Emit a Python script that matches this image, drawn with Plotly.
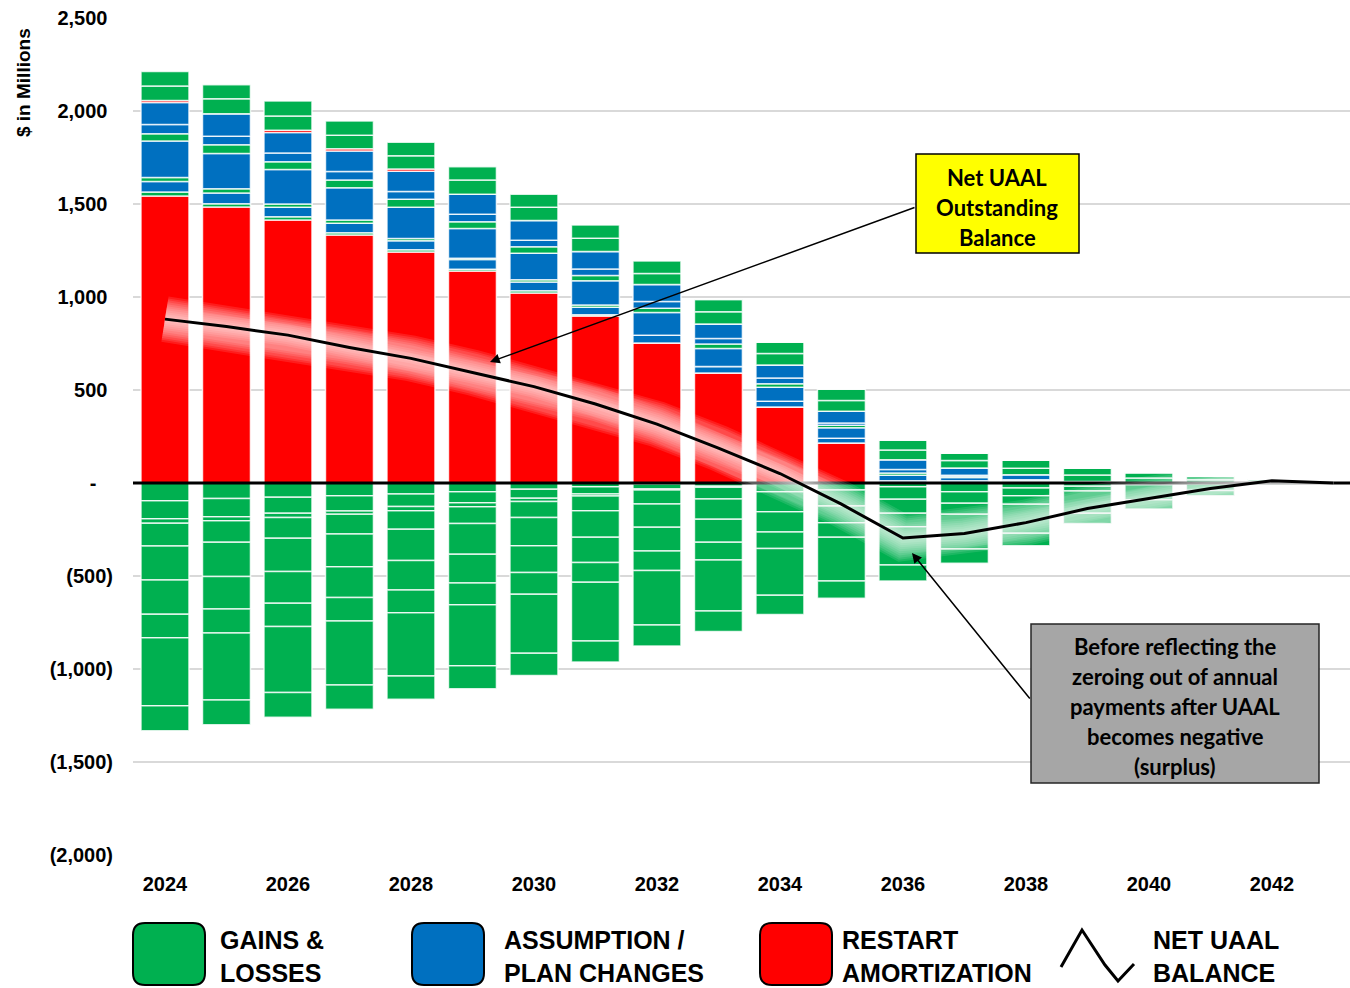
import plotly.graph_objects as go

# ---------------------------------------------------------------- data ($M)
YEARS = list(range(2024, 2044))

# positive amortization bases, listed bottom -> top of the stack
RESTART_AMORT = [1543, 1484, 1414, 1333, 1242, 1140, 1022, 898, 753, 591, 409, 215, 0, 0, 0, 0, 0, 0, 0, 0]
GAIN_A = [22, 17, 17, 12, 12, 9, 12, 6, 0, 0, 0, 0, 0, 0, 0, 0, 0, 0, 0, 0]
ASSUMP_A = [56, 58, 52, 52, 48, 53, 47, 41, 42, 36, 31, 25, 12, 12, 5, 0, 0, 0, 0, 0]
GAIN_B = [22, 23, 17, 17, 12, 6, 12, 12, 0, 0, 0, 0, 0, 0, 0, 0, 0, 0, 0, 0]
ASSUMP_B = [196, 190, 186, 174, 169, 160, 142, 130, 121, 96, 75, 57, 30, 17, 5, 0, 0, 0, 0, 0]
GAIN_C = [39, 46, 41, 41, 42, 36, 35, 29, 24, 24, 19, 13, 12, 6, 3, 0, 0, 0, 0, 0]
ASSUMP_C = [50, 46, 47, 46, 42, 41, 35, 35, 36, 30, 31, 13, 18, 6, 4, 0, 0, 0, 0, 0]
ASSUMP_D = [118, 121, 111, 110, 109, 107, 106, 94, 91, 78, 69, 63, 53, 40, 28, 8, 0, 0, 0, 0]
RESTART_B = [11, 0, 12, 12, 12, 0, 0, 0, 0, 0, 0, 0, 0, 0, 0, 0, 0, 0, 0, 0]
GAIN_D = [78, 81, 76, 73, 72, 77, 71, 71, 60, 66, 62, 57, 53, 40, 34, 35, 27, 18, 10, 0]
GAIN_E = [78, 75, 81, 76, 72, 71, 71, 71, 66, 66, 62, 63, 53, 40, 45, 38, 30, 20, 12, 0]

# negative gain/loss bases, listed from zero downward
LOSS_1 = [-95, -84, -77, -68, -59, -47, -34, -20, -5, 0, 0, 0, 0, 0, 0, 0, 0, 0, 0, 0]
LOSS_2 = [-97, -97, -86, -82, -68, -59, -48, -39, -27, -17, 0, 0, 0, 0, 0, 0, 0, 0, 0, 0]
LOSS_3 = [-25, -22, -23, -18, -22, -22, -18, -11, -6, -6, 0, 0, 0, 0, 0, 0, 0, 0, 0, 0]
LOSS_4 = [-122, -116, -111, -106, -100, -90, -86, -79, -75, -63, -47, -38, -20, 0, 0, 0, 0, 0, 0, 0]
LOSS_5 = [-183, -184, -179, -176, -168, -165, -152, -143, -125, -109, -108, -86, -68, -47, -27, 0, 0, 0, 0, 0]
LOSS_6 = [-183, -174, -170, -165, -158, -154, -143, -136, -127, -124, -108, -90, -75, -62, -42, -18, 0, 0, 0, 0]
LOSS_7 = [-127, -129, -125, -127, -122, -117, -117, -106, -106, -95, -89, -78, -72, -59, -45, -25, -10, -5, 0, 0]
LOSS_8 = [-366, -360, -355, -344, -340, -328, -317, -315, -292, -274, -251, -235, -206, -187, -156, -120, -80, -35, -5, 0]
LOSS_9 = [-134, -134, -133, -131, -125, -124, -120, -113, -113, -111, -104, -93, -86, -77, -67, -55, -50, -28, -5, 0]

Y_TICKS = [-2000, -1500, -1000, -500, 0, 500, 1000, 1500, 2000, 2500]
Y_TICK_TEXT = ["(2,000)", "(1,500)", "(1,000)", "(500)", "-\u00a0\u00a0\u00a0",
               "500\u00a0", "1,000\u00a0", "1,500\u00a0", "2,000\u00a0", "2,500\u00a0"]
X_TICKS = list(range(2024, 2043, 2))

# ---------------------------------------------------------------- styles
GREEN = "#00B050"
BLUE = "#0070C0"
RED = "#FF0000"
NARROW = "Liberation Sans Narrow, Arial Narrow, Liberation Sans, Arial, sans-serif"
BOXFONT = "Lato, Open Sans, sans-serif"

W, H = 1350, 988
ML, MR, MT, MB = 133, 0, 18, 133
X_LO, X_HI = 2023.48, 2043.27


def fx(p):
    """page x pixel -> paper fraction"""
    return (p - ML) / (W - ML - MR)


def fy(p):
    """page y pixel -> paper fraction"""
    return (H - MB - p) / (H - MT - MB)


fig = go.Figure()

positive = [
    (RESTART_AMORT, RED), (GAIN_A, GREEN), (ASSUMP_A, BLUE), (GAIN_B, GREEN),
    (ASSUMP_B, BLUE), (GAIN_C, GREEN), (ASSUMP_C, BLUE), (ASSUMP_D, BLUE),
    (RESTART_B, RED), (GAIN_D, GREEN), (GAIN_E, GREEN),
]
negative = [LOSS_1, LOSS_2, LOSS_3, LOSS_4, LOSS_5, LOSS_6, LOSS_7, LOSS_8, LOSS_9]

SEP = dict(color="rgba(255,255,255,0.8)", width=1.5)
for vals, col in positive:
    fig.add_trace(go.Bar(x=YEARS, y=vals, marker=dict(color=col, line=SEP),
                         showlegend=False, hoverinfo="skip"))
for vals in negative:
    fig.add_trace(go.Bar(x=YEARS, y=vals, marker=dict(color=GREEN, line=SEP),
                         showlegend=False, hoverinfo="skip"))

# zero baseline across the plot
fig.add_trace(go.Scatter(x=[X_LO, X_HI], y=[0, 0], mode="lines", line=dict(color="black", width=3),
                         showlegend=False, hoverinfo="skip"))

# net UAAL balance = sum of all bases
all_layers = [v for v, _ in positive] + negative
net = [sum(layer[i] for layer in all_layers) for i in range(len(YEARS))]

# soft white glow under the net line
for w in range(46, 1, -4):
    fig.add_trace(go.Scatter(x=YEARS, y=net, mode="lines", line=dict(color="white", width=w),
                             opacity=0.11, showlegend=False, hoverinfo="skip"))
fig.add_trace(go.Scatter(x=YEARS, y=net, mode="lines", line=dict(color="black", width=3),
                         showlegend=False, hoverinfo="skip"))

shapes = []
annotations = []

# y-axis title
annotations.append(dict(xref="paper", yref="paper", x=fx(23), y=fy(83), text="<b>$ in Millions</b>",
                        textangle=-90, showarrow=False, xanchor="center", yanchor="middle",
                        font=dict(family=NARROW, size=19, color="black")))

# call-out boxes
shapes.append(dict(type="rect", xref="paper", yref="paper", x0=fx(916), x1=fx(1079), y0=fy(253), y1=fy(154),
                   fillcolor="#FFFF00", line=dict(color="black", width=1.5), layer="above"))
for txt, yy in [("Net UAAL", 177), ("Outstanding", 207), ("Balance", 237)]:
    annotations.append(dict(xref="paper", yref="paper", x=fx(997), y=fy(yy), text=f"<b>{txt}</b>",
                            showarrow=False, xanchor="center", yanchor="middle",
                            font=dict(family=BOXFONT, size=22, color="black")))

shapes.append(dict(type="rect", xref="paper", yref="paper", x0=fx(1031), x1=fx(1319), y0=fy(783), y1=fy(624),
                   fillcolor="#A6A6A6", line=dict(color="#262626", width=1.5), layer="above"))
for txt, yy in [("Before reflecting the", 646), ("zeroing out of annual", 676), ("payments after UAAL", 706),
                ("becomes negative", 736), ("(surplus)", 766)]:
    annotations.append(dict(xref="paper", yref="paper", x=fx(1175), y=fy(yy), text=f"<b>{txt}</b>",
                            showarrow=False, xanchor="center", yanchor="middle",
                            font=dict(family=BOXFONT, size=22, color="black")))

# arrows from the call-outs to the net line
for hx, hy, tx, ty in [(490, 362, 916, 207), (912, 553, 1031, 700)]:
    annotations.append(dict(xref="paper", yref="paper", x=fx(hx), y=fy(hy), text="", showarrow=True,
                            ax=tx - hx, ay=ty - hy, arrowhead=2, arrowsize=1.3, arrowwidth=1.5,
                            arrowcolor="black", standoff=0, startstandoff=0))


# legend
def rounded(x0, y0, x1, y1, r):
    pts = [
        f"M {fx(x0 + r)},{fy(y0)}", f"L {fx(x1 - r)},{fy(y0)}", f"Q {fx(x1)},{fy(y0)} {fx(x1)},{fy(y0 + r)}",
        f"L {fx(x1)},{fy(y1 - r)}", f"Q {fx(x1)},{fy(y1)} {fx(x1 - r)},{fy(y1)}",
        f"L {fx(x0 + r)},{fy(y1)}", f"Q {fx(x0)},{fy(y1)} {fx(x0)},{fy(y1 - r)}",
        f"L {fx(x0)},{fy(y0 + r)}", f"Q {fx(x0)},{fy(y0)} {fx(x0 + r)},{fy(y0)}", "Z",
    ]
    return " ".join(pts)


LEG_SIZE = 25
legend_items = [
    (133, GREEN, ["GAINS &amp;", "LOSSES"], 218),
    (412, BLUE, ["ASSUMPTION /", "PLAN CHANGES"], 502),
    (760, RED, ["RESTART", "AMORTIZATION"], 840),
]
for bx, col, lines, tx in legend_items:
    shapes.append(dict(type="path", xref="paper", yref="paper", path=rounded(bx, 923, bx + 72, 985, 12),
                       fillcolor=col, line=dict(color="black", width=2)))
    for txt, yy in zip(lines, [940, 973]):
        annotations.append(dict(xref="paper", yref="paper", x=fx(tx), y=fy(yy), text=f"<b>{txt}</b>",
                                showarrow=False, xanchor="left", yanchor="middle",
                                font=dict(family=NARROW, size=LEG_SIZE, color="black")))

icon = [(1061, 967), (1082, 930), (1105, 965), (1118, 981), (1134, 964)]
icon_path = "M " + " L ".join(f"{fx(a)},{fy(b)}" for a, b in icon)
shapes.append(dict(type="path", xref="paper", yref="paper", path=icon_path, line=dict(color="black", width=3)))
for txt, yy in zip(["NET UAAL", "BALANCE"], [940, 973]):
    annotations.append(dict(xref="paper", yref="paper", x=fx(1151), y=fy(yy), text=f"<b>{txt}</b>",
                            showarrow=False, xanchor="left", yanchor="middle",
                            font=dict(family=NARROW, size=LEG_SIZE, color="black")))

fig.update_layout(
    width=W, height=H,
    margin=dict(l=ML, r=MR, t=MT, b=MB, autoexpand=False),
    paper_bgcolor="white", plot_bgcolor="white",
    barmode="relative", bargap=0.22,
    showlegend=False,
    shapes=shapes, annotations=annotations,
    font=dict(family=NARROW, color="black"),
    xaxis=dict(range=[X_LO, X_HI], tickvals=X_TICKS, ticktext=[f"<b>{y}</b>" for y in X_TICKS],
               tickfont=dict(family=NARROW, size=20, color="black"), showgrid=False, zeroline=False,
               showline=False, ticks="outside", ticklen=11, tickcolor="rgba(0,0,0,0)"),
    yaxis=dict(range=[-2000, 2500], tickvals=Y_TICKS, ticktext=[f"<b>{t}</b>" for t in Y_TICK_TEXT],
               tickfont=dict(family=NARROW, size=20, color="black"), showgrid=True, gridcolor="#D9D9D9",
               gridwidth=2, zeroline=False, showline=False, ticks="outside", ticklen=15,
               tickcolor="rgba(0,0,0,0)"),
)

fig.write_html("out.html")
